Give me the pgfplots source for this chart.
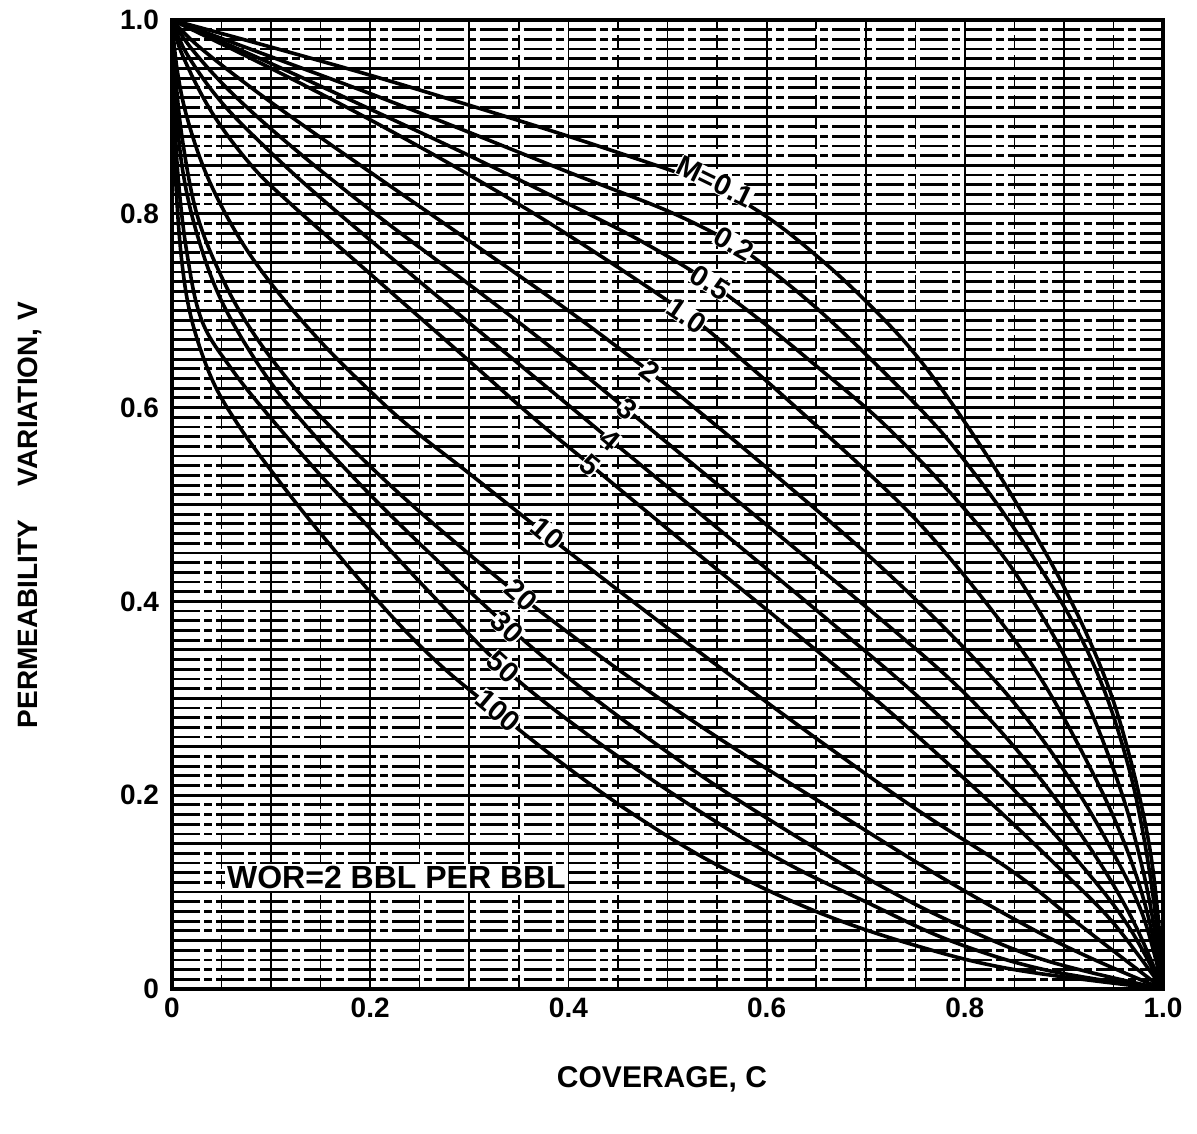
\documentclass[border=0pt]{standalone}
\usepackage{fontspec}
\setmainfont{Liberation Sans}
\usepackage{pgfplots}
\pgfplotsset{compat=1.18}

% curves C (coverage) vs V (permeability variation), one table per mobility ratio
\pgfplotstableread{
C V
0 1
0.1 0.972
0.2 0.943
0.3 0.912
0.4 0.88
0.5 0.846
0.548 0.828
0.6 0.797
0.65 0.757
0.7 0.71
0.75 0.655
0.8 0.585
0.85 0.505
0.9 0.415
0.94 0.325
0.965 0.245
0.985 0.155
0.995 0.075
1 0
}\mA
\pgfplotstableread{
C V
0 1
0.1 0.962
0.2 0.924
0.3 0.884
0.4 0.843
0.5 0.803
0.563 0.771
0.6 0.745
0.65 0.703
0.7 0.655
0.762 0.591
0.8 0.545
0.85 0.475
0.905 0.386
0.94 0.31
0.965 0.23
0.98 0.16
0.992 0.08
1 0
}\mB
\pgfplotstableread{
C V
0 1
0.1 0.955
0.2 0.908
0.3 0.86
0.42 0.80
0.48 0.768
0.541 0.73
0.6 0.685
0.65 0.643
0.71 0.591
0.76 0.54
0.8 0.495
0.84 0.445
0.869 0.40
0.9 0.345
0.93 0.28
0.959 0.2
0.978 0.13
0.99 0.07
1 0
}\mC
\pgfplotstableread{
C V
0 1
0.1 0.95
0.2 0.897
0.3 0.84
0.4 0.778
0.52 0.696
0.58 0.645
0.63 0.60
0.7 0.535
0.76 0.474
0.828 0.39
0.88 0.315
0.933 0.215
0.965 0.14
0.985 0.075
1 0
}\mD
\pgfplotstableread{
C V
0 1
0.03 0.97
0.1 0.915
0.2 0.843
0.3 0.772
0.4 0.70
0.482 0.637
0.533 0.595
0.6 0.538
0.7 0.45
0.782 0.37
0.85 0.295
0.907 0.215
0.95 0.14
0.98 0.075
1 0
}\mE
\pgfplotstableread{
C V
0 1
0.02 0.97
0.06 0.925
0.12 0.87
0.205 0.80
0.3 0.727
0.38 0.664
0.459 0.598
0.53 0.538
0.62 0.462
0.717 0.38
0.8 0.305
0.87 0.225
0.93 0.14
0.97 0.07
1 0
}\mF
\pgfplotstableread{
C V
0 1
0.015 0.965
0.05 0.915
0.1 0.863
0.155 0.812
0.25 0.73
0.35 0.645
0.442 0.567
0.55 0.476
0.663 0.38
0.76 0.295
0.85 0.205
0.92 0.125
0.965 0.065
1 0
}\mG
\pgfplotstableread{
C V
0 1
0.01 0.965
0.04 0.905
0.08 0.85
0.12 0.81
0.2 0.738
0.3 0.648
0.364 0.59
0.422 0.541
0.52 0.458
0.621 0.374
0.72 0.29
0.823 0.195
0.9 0.12
0.95 0.068
1 0
}\mH
\pgfplotstableread{
C V
0 1
0.005 0.95
0.015 0.9
0.035 0.84
0.065 0.78
0.1 0.728
0.15 0.668
0.2 0.617
0.24 0.58
0.3 0.532
0.379 0.468
0.493 0.378
0.6 0.296
0.7 0.222
0.762 0.178
0.85 0.12
0.92 0.063
1 0
}\mI
\pgfplotstableread{
C V
0 1
0.003 0.95
0.01 0.88
0.025 0.80
0.05 0.735
0.08 0.68
0.12 0.625
0.162 0.578
0.22 0.52
0.28 0.466
0.351 0.406
0.45 0.33
0.55 0.26
0.665 0.186
0.785 0.11
0.9 0.045
1 0
}\mJ
\pgfplotstableread{
C V
0 1
0.003 0.93
0.01 0.85
0.025 0.78
0.05 0.71
0.09 0.64
0.132 0.585
0.2 0.51
0.27 0.44
0.338 0.375
0.42 0.305
0.52 0.23
0.607 0.172
0.7 0.115
0.785 0.07
0.88 0.03
1 0
}\mK
\pgfplotstableread{
C V
0 1
0.002 0.92
0.006 0.84
0.015 0.76
0.03 0.69
0.06 0.64
0.099 0.59
0.15 0.53
0.2 0.475
0.264 0.405
0.334 0.332
0.42 0.262
0.533 0.183
0.62 0.13
0.7 0.09
0.785 0.05
0.88 0.02
1 0
}\mL
\pgfplotstableread{
C V
0 1
0.001 0.92
0.004 0.83
0.01 0.75
0.02 0.69
0.04 0.63
0.065 0.585
0.1 0.535
0.15 0.47
0.217 0.39
0.27 0.335
0.329 0.285
0.4 0.228
0.469 0.178
0.55 0.128
0.65 0.08
0.75 0.045
0.85 0.02
1 0
}\mM

\begin{document}
\begin{tikzpicture}[
  lbl/.style={fill=white, inner sep=0pt, font=\fontsize{14.5}{15}\selectfont\bfseries},
  crv/.style={black, solid, mark=none, line width=1.8pt, smooth, tension=0.6}
]
\path[use as bounding box] (0,0) rectangle (598.5pt,566.5pt);
\begin{axis}[
  at={(86pt,72pt)}, anchor=south west,
  scale only axis, width=495.5pt, height=484.5pt,
  xmin=0, xmax=1, ymin=0, ymax=1,
  xtick={0,0.1,0.2,0.3,0.4,0.5,0.6,0.7,0.8,0.9,1},
  xticklabels={0,,0.2,,0.4,,0.6,,0.8,,1.0},
  ytick={0,0.05,0.1,0.15,0.2,0.25,0.3,0.35,0.4,0.45,0.5,0.55,0.6,0.65,0.7,0.75,0.8,0.85,0.9,0.95,1},
  yticklabels={0,,,,0.2,,,,0.4,,,,0.6,,,,0.8,,,,1.0},
  minor x tick num=1, minor y tick num=4,
  grid=both,
  major x grid style={black, line width=0.9pt},
  minor x grid style={black, line width=0.7pt, dash pattern=on 7pt off 3pt},
  major y grid style={black, line width=1.4pt},
  minor y grid style={black, line width=1.4pt, dash pattern=on 14pt off 2pt on 4pt off 2pt},
  major tick length=0pt, minor tick length=0pt,
  axis line style={line width=1.6pt},
  ticklabel style={font=\fontsize{14}{16}\selectfont\bfseries},
  yticklabel style={xshift=-3pt},
  xticklabel style={yshift=-1pt},
]
\addplot[crv] table {\mA};
\addplot[crv] table {\mB};
\addplot[crv] table {\mC};
\addplot[crv] table {\mD};
\addplot[crv] table {\mE};
\addplot[crv] table {\mF};
\addplot[crv] table {\mG};
\addplot[crv] table {\mH};
\addplot[crv] table {\mI};
\addplot[crv] table {\mJ};
\addplot[crv] table {\mK};
\addplot[crv] table {\mL};
\addplot[crv] table {\mM};

\coordinate (lA) at (axis cs:0.548,0.833);
\coordinate (lB) at (axis cs:0.567,0.769);
\coordinate (lC) at (axis cs:0.543,0.729);
\coordinate (lD) at (axis cs:0.519,0.695);
\coordinate (lE) at (axis cs:0.482,0.637);
\coordinate (lF) at (axis cs:0.459,0.598);
\coordinate (lG) at (axis cs:0.442,0.567);
\coordinate (lH) at (axis cs:0.422,0.541);
\coordinate (lI) at (axis cs:0.379,0.470);
\coordinate (lJ) at (axis cs:0.352,0.407);
\coordinate (lK) at (axis cs:0.338,0.373);
\coordinate (lL) at (axis cs:0.334,0.332);
\coordinate (lM) at (axis cs:0.329,0.287);
\coordinate (lW) at (axis cs:0.2265,0.115);
\end{axis}
\node[lbl, rotate=-26] at (lA) {M=0.1};
\node[lbl, rotate=-30] at (lB) {0.2};
\node[lbl, rotate=-32] at (lC) {0.5};
\node[lbl, rotate=-34] at (lD) {1.0};
\node[lbl, rotate=-37] at (lE) {2};
\node[lbl, rotate=-40] at (lF) {3};
\node[lbl, rotate=-40] at (lG) {4};
\node[lbl, rotate=-40] at (lH) {5};
\node[lbl, rotate=-40] at (lI) {10};
\node[lbl, rotate=-42] at (lJ) {20};
\node[lbl, rotate=-43] at (lK) {30};
\node[lbl, rotate=-42] at (lL) {50};
\node[lbl, rotate=-40] at (lM) {100};
\node[fill=white, inner sep=1pt, font=\fontsize{16}{17}\selectfont\bfseries] at (lW) {WOR=2 BBL PER BBL};
\node[font=\fontsize{15}{16}\selectfont\bfseries] at (331pt,27pt) {COVERAGE, C};
\node[rotate=90, font=\fontsize{14}{16}\selectfont\bfseries] at (15pt,309pt) {PERMEABILITY\hspace{1.2em}VARIATION, V};
\end{tikzpicture}
\end{document}
